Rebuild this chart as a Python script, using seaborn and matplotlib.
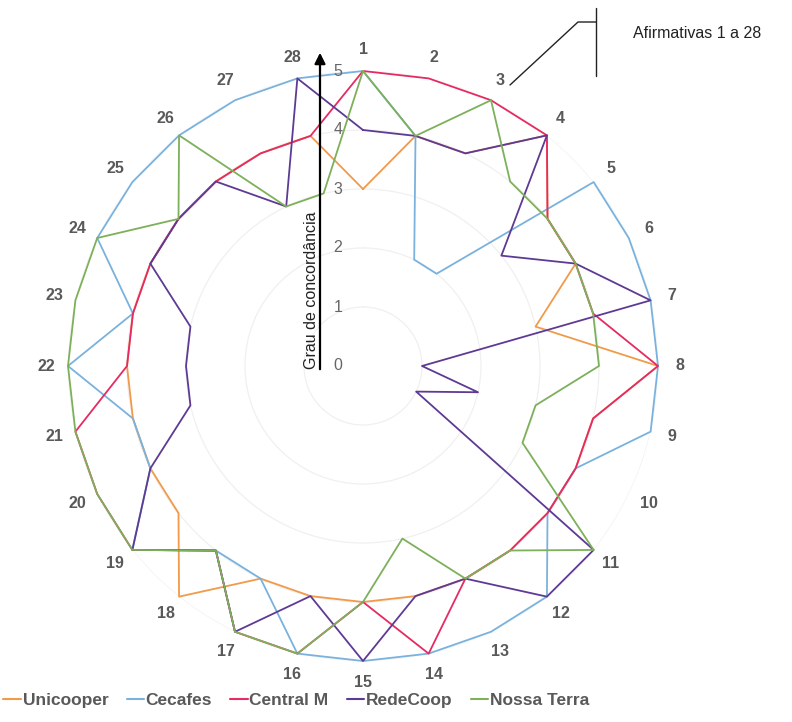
import numpy as np
import pandas as pd
import matplotlib
matplotlib.use("Agg")
import matplotlib.pyplot as plt
import matplotlib.transforms as mtransforms
from matplotlib.lines import Line2D
from matplotlib.patches import FancyArrowPatch
import seaborn as sns

# afirmativas 1..28, grau de concordância (0 a 5)
afirmativas = list(range(1, 29))
unicooper = [3, 4, 4, 5, 4, 4, 3, 5, 4, 4, 4, 4, 4, 4, 4, 4, 4, 5, 4, 4, 4, 4, 4, 4, 4, 4, 4, 4]
cecafes = [5, 4, 2, 2, 5, 5, 5, 5, 5, 4, 4, 5, 5, 5, 5, 5, 4, 4, 5, 4, 4, 5, 4, 5, 5, 5, 5, 5]
central_m = [5, 5, 5, 5, 4, 4, 4, 5, 4, 4, 4, 4, 4, 5, 4, 5, 5, 4, 5, 5, 5, 4, 4, 4, 4, 4, 4, 4]
redecoop = [4, 4, 4, 5, 3, 4, 5, 1, 2, 1, 5, 5, 4, 4, 5, 4, 5, 4, 5, 4, 3, 3, 3, 4, 4, 4, 3, 5]
nossa_terra = [5, 4, 5, 4, 4, 4, 4, 4, 3, 3, 5, 4, 4, 3, 4, 5, 5, 4, 5, 5, 5, 5, 5, 5, 4, 5, 3, 3]

series = ["Unicooper", "Cecafes", "Central M", "RedeCoop", "Nossa Terra"]
valores = [unicooper, cecafes, central_m, redecoop, nossa_terra]
cores = ["#F09A4A", "#7AB2DE", "#E62A62", "#5E3A94", "#7DB05A"]
niveis = [0, 1, 2, 3, 4, 5]

sns.set_theme(style="white")
plt.rcParams["font.family"] = ["Liberation Sans", "DejaVu Sans"]

# tabela longa (fechando o polígono)
n = len(afirmativas)
angulos = [2 * np.pi * (a - 1) / n for a in afirmativas]
linhas = []
for nome, vals in zip(series, valores):
    for ang, v in zip(angulos + [2 * np.pi], vals + [vals[0]]):
        linhas.append({"theta": ang, "valor": v, "serie": nome})
df = pd.DataFrame(linhas)

W, H = 792, 722
fig = plt.figure(figsize=(W / 100, H / 100), dpi=100)
cx, cy, rad = 363, 366, 295
ax = fig.add_axes([(cx - rad) / W, (H - cy - rad) / H, 2 * rad / W, 2 * rad / H],
                  projection="polar")
ax.set_theta_zero_location("N")
ax.set_theta_direction(-1)

sns.lineplot(data=df, x="theta", y="valor", hue="serie", hue_order=series,
             palette=cores, sort=False, estimator=None, linewidth=1.3,
             legend=False, ax=ax)
for ln in ax.get_lines():
    ln.set_clip_on(False)

ax.set_ylim(0, 5)
ax.set_yticks(niveis[1:])
ax.set_yticklabels([])
ax.set_xticks([])
ax.yaxis.grid(True, color="#f0f0f0", linewidth=0.9)
ax.xaxis.grid(False)
ax.spines["polar"].set_visible(False)
ax.set_xlabel("")
ax.set_ylabel("")
ax.patch.set_alpha(0)

# rótulos das afirmativas
for a, ang in zip(afirmativas, angulos):
    ax.text(ang, 5.37, str(a), ha="center", va="center", fontsize=11.5,
            fontweight="bold", color="#595959", clip_on=False)

# escala radial
desl = mtransforms.offset_copy(ax.transData, fig=fig, x=-25, y=0, units="dots")
for r in niveis:
    ax.text(0, r, str(r), transform=desl, ha="center", va="center",
            fontsize=11.5, color="#666666")

# eixo "Grau de concordância"
fig.add_artist(FancyArrowPatch((320 / W, 1 - 372 / H), (320 / W, 1 - 50 / H),
                               transform=fig.transFigure, arrowstyle="-|>",
                               mutation_scale=16, color="black", linewidth=1.6))
fig.text(311 / W, 1 - 290 / H, "Grau de concordância", rotation=90,
         ha="center", va="center", fontsize=11.5, color="#222222")

# chamada "Afirmativas 1 a 28"
xs = [510, 578, 596]
ys = [85, 22, 22]
fig.add_artist(Line2D([x / W for x in xs], [1 - y / H for y in ys],
                      transform=fig.transFigure, color="#222222", linewidth=1))
fig.add_artist(Line2D([596 / W, 596 / W], [1 - 8 / H, 1 - 76 / H],
                      transform=fig.transFigure, color="#222222", linewidth=1))
fig.text(633 / W, 1 - 33 / H, "Afirmativas 1 a 28", ha="left", va="center",
         fontsize=11.5, color="#222222")

# legenda
handles = [Line2D([0], [0], color=c, linewidth=1.5) for c in cores]
fig.legend(handles, series, loc="center left", bbox_to_anchor=(0.0, 22 / H),
           ncol=5, frameon=False, handlelength=1.0, handletextpad=0.1,
           columnspacing=1.05, borderaxespad=0, borderpad=0.2,
           prop={"weight": "bold", "size": 12.5}, labelcolor="#595959")

fig.savefig("out.png", dpi=100)
